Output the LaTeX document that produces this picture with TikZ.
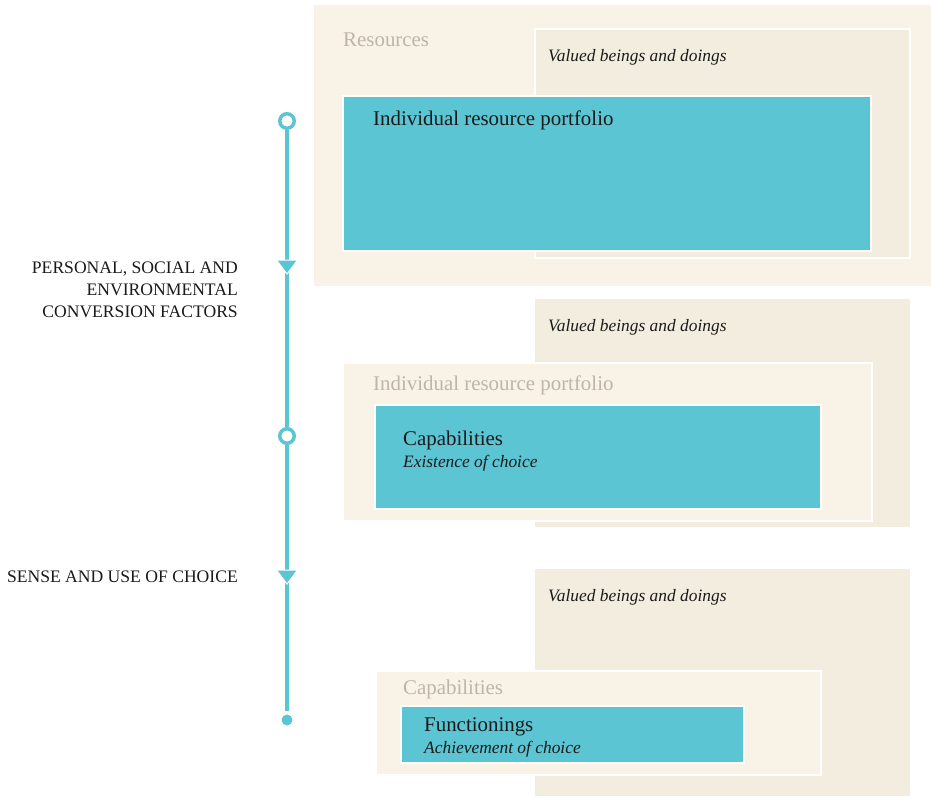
\documentclass[tikz,border=0pt]{standalone}
\usepackage{fontspec}
\setmainfont{Liberation Serif}
\definecolor{sand}{HTML}{F9F3E7}
\definecolor{wheat}{HTML}{F3EDDF}
\definecolor{teal}{HTML}{5BC5D3}
\definecolor{ghost}{HTML}{BCB5A8}
\definecolor{ink}{HTML}{1A1A1A}
\tikzset{
  panel/.style={rectangle, inner sep=0pt, outer sep=0pt, anchor=north west},
  outerbox/.style={panel, fill=sand},
  valuedbox/.style={panel, fill=wheat, draw=white, line width=2pt},
  innerbox/.style={panel, fill=sand, draw=white, line width=2pt},
  bluebox/.style={panel, fill=teal, draw=white, line width=2pt},
  title/.style={anchor=base west, inner sep=0pt, text=ink, font=\fontsize{20.9}{24}\selectfont},
  faded/.style={title, text=ghost},
  note/.style={anchor=base west, inner sep=0pt, text=ink, font=\fontsize{17.4}{20}\selectfont\itshape},
  side/.style={anchor=base east, inner sep=0pt, text=ink, font=\fontsize{17.6}{22}\selectfont},
  track/.style={draw=teal, line width=3.2pt},
  ring/.style={circle, draw=teal, fill=white, line width=3.5pt, minimum size=14.5pt, inner sep=0pt},
  enddot/.style={circle, fill=teal, minimum size=11pt, inner sep=0pt, outer sep=4pt},
  pointer/.style={fill=teal, draw=white, line width=1pt, line join=miter}
}
\begin{document}
\begin{tikzpicture}[x=1pt, y=-1pt]
\useasboundingbox (0,0) rectangle (931,796);

% ---- stage 1: resources ----
\node[outerbox, minimum width=617pt, minimum height=281pt] (res) at (314,5) {};
\node[valuedbox, minimum width=375pt, minimum height=229pt] (val1) at (535,29) {};
\node[bluebox, minimum width=528pt, minimum height=155pt] (irp1) at (343,96) {};
\node[faded] (resL) at (343,46) {Resources};
\node[note] (val1L) at (548,61) {Valued beings and doings};
\node[title] (irp1L) at (373,125) {Individual resource portfolio};

% ---- stage 2: capabilities ----
\node[valuedbox, draw=none, minimum width=375pt, minimum height=228pt] (val2) at (535,299) {};
\node[innerbox, minimum width=529pt, minimum height=158pt] (irp2) at (343,363) {};
\node[bluebox, minimum width=446pt, minimum height=104pt] (cap2) at (375,405) {};
\node[note] (val2L) at (548,331) {Valued beings and doings};
\node[faded] (irp2L) at (373,390) {Individual resource portfolio};
\node[title] (cap2L) at (403,445) {Capabilities};
\node[note] (cap2N) at (403,467) {Existence of choice};

% ---- stage 3: functionings ----
\node[valuedbox, draw=none, minimum width=375pt, minimum height=227pt] (val3) at (535,569) {};
\node[innerbox, minimum width=445pt, minimum height=104pt] (cap3) at (376,671) {};
\node[bluebox, minimum width=343pt, minimum height=57pt] (fun3) at (401,706) {};
\node[note] (val3L) at (548,601) {Valued beings and doings};
\node[faded] (cap3L) at (403,694) {Capabilities};
\node[title] (fun3L) at (424,731) {Functionings};
\node[note] (fun3N) at (424,753) {Achievement of choice};

% ---- timeline ----
\node[ring] (c1) at (287,121) {};
\node[ring] (c2) at (287,436) {};
\node[enddot] (d3) at (287,720) {};
\coordinate (t1) at (287,267);
\coordinate (t2) at (287,577);
\draw[track] (c1) -- (c2);
\draw[track] (c2) -- (d3);
\filldraw[pointer] (t1) ++(-10.5,-7) -- ++(21,0) -- ++(-10.5,14) -- cycle;
\filldraw[pointer] (t2) ++(-10.5,-7) -- ++(21,0) -- ++(-10.5,14) -- cycle;

% ---- transition labels ----
\node[side] (f1a) at (238,273) {PERSONAL, SOCIAL AND};
\node[side] (f1b) at (238,295) {ENVIRONMENTAL};
\node[side] (f1c) at (238,317) {CONVERSION FACTORS};
\node[side] (f2) at (238,582) {SENSE AND USE OF CHOICE};
\end{tikzpicture}
\end{document}
